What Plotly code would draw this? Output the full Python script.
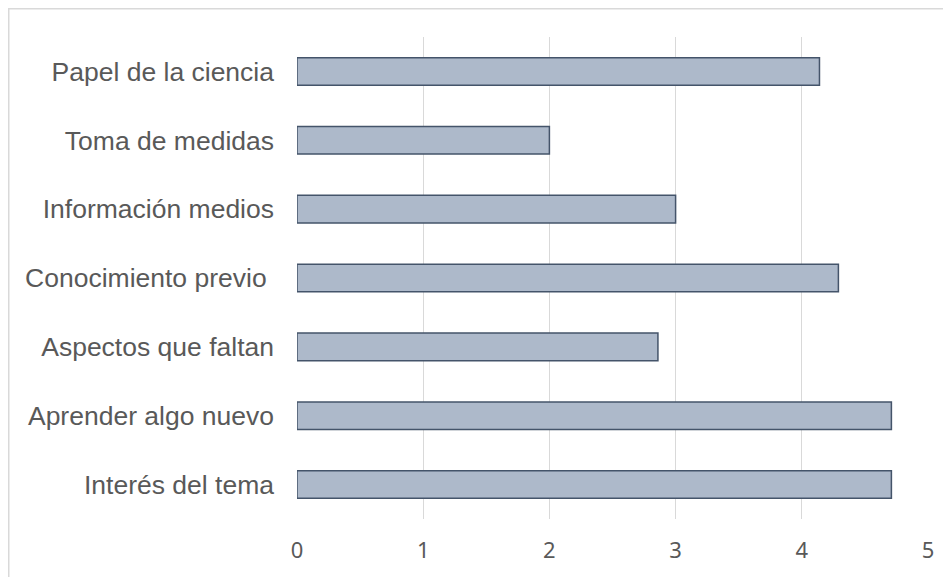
import plotly.graph_objects as go

categories = ["Interés del tema", "Aprender algo nuevo", "Aspectos que faltan",
              "Conocimiento previo ", "Información medios", "Toma de medidas",
              "Papel de la ciencia"]
values = [4.71, 4.71, 2.86, 4.29, 3.0, 2.0, 4.14]
x_ticks = [0, 1, 2, 3, 4, 5]

# page body has an 8px default margin, so the figure is sized to fit inside it
W, H = 943, 569
L, R, T, B = 289, 23, 29, 58
pw, ph = W - L - R, H - T - B

fig = go.Figure(go.Bar(
    x=values, y=categories, orientation="h",
    marker=dict(color="#adb9ca", line=dict(color="#44546a", width=1.5)),
    hoverinfo="x+y",
))

fig.update_layout(
    width=W, height=H,
    margin=dict(l=L, r=R, t=T, b=B, pad=0),
    paper_bgcolor="white", plot_bgcolor="white",
    bargap=0.6,
    showlegend=False,
    xaxis=dict(range=[0, 5], tickvals=x_ticks, showgrid=True, gridcolor="#d9d9d9",
               gridwidth=1.3, zeroline=False, showline=False, ticks="",
               tickfont=dict(family="Noto Sans", size=22, color="#595959"),
               ticklabelstandoff=16, fixedrange=True),
    yaxis=dict(categoryorder="array", categoryarray=categories, showgrid=False,
               zeroline=False, showline=False, ticks="",
               tickfont=dict(family="Liberation Sans, Arial", size=26.5, color="#595959"),
               ticklabelstandoff=22, fixedrange=True),
    shapes=[dict(type="rect", xref="paper", yref="paper",
                 x0=(0.75 - L) / pw, x1=(W + 20 - L) / pw,
                 y0=-(B + 20) / ph, y1=1 + (T - 0.75) / ph,
                 line=dict(color="#d9d9d9", width=1.5), fillcolor="rgba(0,0,0,0)",
                 layer="below")],
)

fig.write_html("out.html")
